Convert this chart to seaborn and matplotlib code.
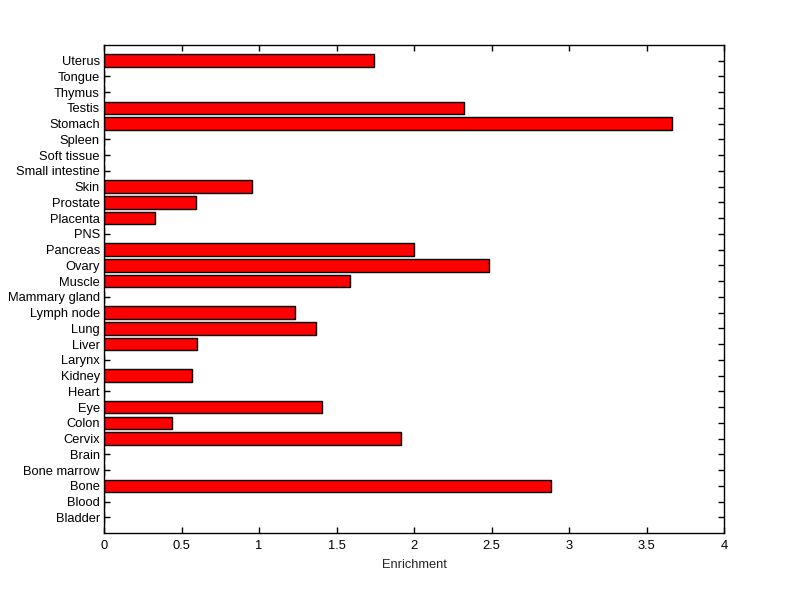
import pandas as pd
import matplotlib
matplotlib.use("Agg")
import matplotlib.pyplot as plt
import seaborn as sns

# tissues listed bottom -> top as in the figure
tissues = ['Bladder', 'Blood', 'Bone', 'Bone marrow', 'Brain', 'Cervix', 'Colon',
           'Eye', 'Heart', 'Kidney', 'Larynx', 'Liver', 'Lung', 'Lymph node',
           'Mammary gland', 'Muscle', 'Ovary', 'Pancreas', 'PNS', 'Placenta',
           'Prostate', 'Skin', 'Small intestine', 'Soft tissue', 'Spleen',
           'Stomach', 'Testis', 'Thymus', 'Tongue', 'Uterus']
enrichment = [0, 0, 2.886, 0, 0, 1.919, 0.439,
              1.406, 0, 0.568, 0, 0.600, 1.368, 1.232,
              0, 1.587, 2.484, 2.000, 0, 0.329,
              0.596, 0.955, 0, 0, 0,
              3.665, 2.323, 0, 0, 1.742]

df = pd.DataFrame({'Tissue': tissues, 'Enrichment': enrichment})

sns.set_style("white")
plt.rcParams['font.family'] = ['Liberation Sans', 'DejaVu Sans']

fig = plt.figure(figsize=(8, 5.99), dpi=100)
ax = fig.add_axes([0.13, 0.11, 0.775, 0.815])

sns.barplot(data=df, x='Enrichment', y='Tissue', order=tissues[::-1],
            color='red', saturation=1, width=0.8, edgecolor='black',
            linewidth=1, ax=ax)

ax.set_xlim(0, 4)
ax.set_ylim(len(tissues), -1)
ax.set_xticks([0, 0.5, 1, 1.5, 2, 2.5, 3, 3.5, 4])
ax.set_xticklabels(['0', '0.5', '1', '1.5', '2', '2.5', '3', '3.5', '4'])
ax.set_xlabel('Enrichment', fontsize=9.3, labelpad=5)
ax.set_ylabel('')
ax.tick_params(direction='in', length=4, width=1, top=True, right=True,
               left=True, bottom=True, labelsize=9.3, colors='black')
ax.tick_params(axis='x', pad=5)
ax.tick_params(axis='y', pad=3)
for s in ax.spines.values():
    s.set_visible(True)
    s.set_color('black')
    s.set_linewidth(1)

fig.savefig('out.png', dpi=100, facecolor='white')
